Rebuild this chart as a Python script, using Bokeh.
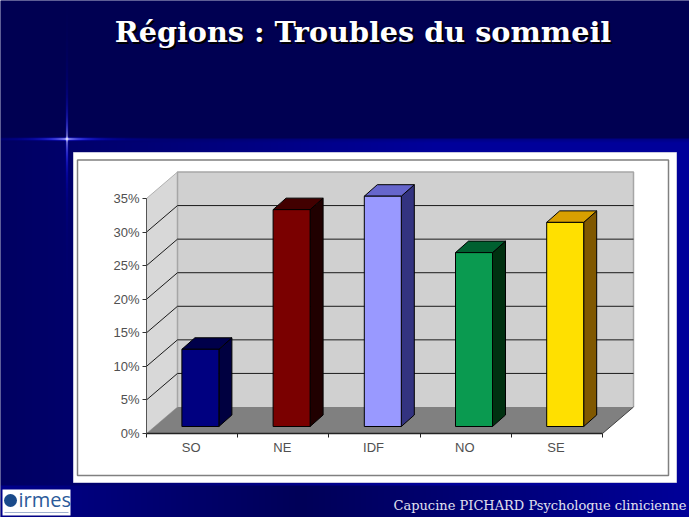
import numpy as np
from bokeh.embed import file_html
from bokeh.resources import INLINE
from bokeh.plotting import figure
from bokeh.models import LinearAxis, FixedTicker, Range1d
from bokeh.core.properties import value

# ---- data -------------------------------------------------------------
categories = ["SO", "NE", "IDF", "NO", "SE"]
values = [11.5, 32.3, 34.3, 25.9, 30.4]
y_ticks = [0, 5, 10, 15, 20, 25, 30, 35]
front_colors = ["#000080", "#7a0000", "#9999ff", "#0a9a50", "#ffe000"]
top_colors = ["#00004a", "#420000", "#6666cc", "#006030", "#d9a000"]
side_colors = ["#000040", "#200000", "#333380", "#003010", "#805800"]
title_text = "Régions : Troubles du sommeil"
footer_text = "Capucine PICHARD Psychologue clinicienne"

# ---- page geometry: one slot / one percent expressed in pixels --------
W, H = 689, 517
OFF = 0
SLOT = 91.2
PCT = 235 / 35
X0, Y0 = 146, 433


def ux(px):
    return (px - X0) / SLOT


def uy(px):
    return (Y0 - px) / PCT


p = figure(width=W, height=H, output_backend="svg", toolbar_location=None,
           x_range=Range1d(ux(OFF), ux(OFF + W)), y_range=Range1d(uy(OFF + H), uy(OFF)),
           x_axis_type=None, y_axis_type=None, min_border=0, outline_line_color=None)
p.grid.visible = False
p.background_fill_color = "#00005a"
p.border_fill_color = "#00005a"

# ---- slide background (decoration) ------------------------------------
yy, xx = np.mgrid[0:H, 0:W]
sx = xx + OFF
sy = yy + OFF
r = np.zeros((H, W))
g = np.zeros((H, W))
b = 0x52 + 0 * r
t = np.clip(sx / 689, 0, 1)
b = np.where(sy >= 138, 0x62 + (0x9a - 0x62) * np.clip(t * 1.6, 0, 1), b)
upper_fade = np.clip((sy - 128) / 14, 0, 1)
b = np.where(sy < 142, 0x52 + (b - 0x52) * upper_fade, b)
mid = np.abs(sx - 300) / 390
b = np.where(sy > 484, 0x58 + (0x9a - 0x58) * np.clip(mid, 0, 1), b)
cx, cy = 66, 138
hflare = np.exp(-((sy - cy) / 1.2) ** 2) * np.exp(-np.abs(sx - cx) / 30)
vflare = np.exp(-((sx - cx) / 0.8) ** 2) * np.exp(-np.abs(sy - cy) / 30)
flare = np.clip(hflare + vflare, 0, 1)
white = flare ** 2.5
r = r + 255 * white
g = g + 255 * white
b = np.clip(b + 255 * flare, 0, 255)
img = np.zeros((H, W), dtype=np.uint32)
view = img.view(dtype=np.uint8).reshape((H, W, 4))
view[..., 0] = r.astype(np.uint8)
view[..., 1] = g.astype(np.uint8)
view[..., 2] = b.astype(np.uint8)
view[..., 3] = 255
p.image_rgba(image=[img[::-1]], x=ux(OFF), y=uy(OFF + H), dw=W / SLOT, dh=H / PCT)

# ---- card ---------------------------------------------------------------
p.quad(left=ux(73), right=ux(676), top=uy(152), bottom=uy(482),
       fill_color="#ffffff", line_color="#c8c8e0", line_width=1)
p.quad(left=ux(77), right=ux(668), top=uy(159.5), bottom=uy(475),
       fill_color="#ffffff", line_color="#808080", line_width=1.5)

# ---- 3D box ---------------------------------------------------------------
DX, DY = 31 / SLOT, 26.5 / PCT
n = len(categories)
top = y_ticks[-1]
p.patch([0, DX, DX, 0], [0, DY, top + DY, top], fill_color="#d8d8d8", line_color="#b0b0b0", line_width=1)
p.patch([DX, n + DX, n + DX, DX], [DY, DY, top + DY, top + DY], fill_color="#d0d0d0", line_color=None)
p.multi_line([[DX, DX, n + DX, n + DX]], [[DY, top + DY, top + DY, DY]], line_color="#a6a6a6", line_width=1.5)
p.patch([0, n, n + DX, DX], [0, 0, DY, DY], fill_color="#808080", line_color=None)
p.line([n, n + DX], [0, DY], line_color="#404040", line_width=1)
grid_levels = y_ticks[1:-1]
p.multi_line([[0, DX, n + DX] for _ in grid_levels],
             [[v, v + DY, v + DY] for v in grid_levels],
             line_color="#1a1a1a", line_width=1)

# ---- bars ---------------------------------------------------------------
BAR_W = 37 / SLOT
BX, BY = 8.3 / SLOT, 7 / PCT
SX, SY = 13 / SLOT, 11.5 / PCT
lefts = [i + 0.5 - BAR_W / 2 + BX for i in range(n)]
rights = [l + BAR_W for l in lefts]
tops = [v + BY for v in values]
p.patches([[r_, r_ + SX, r_ + SX, r_] for r_ in rights],
          [[BY, BY + SY, t_ + SY, t_] for t_ in tops],
          fill_color=side_colors, line_color="#000000", line_width=1)
p.patches([[l, r_, r_ + SX, l + SX] for l, r_ in zip(lefts, rights)],
          [[t_, t_, t_ + SY, t_ + SY] for t_ in tops],
          fill_color=top_colors, line_color="#000000", line_width=1)
p.quad(left=lefts, right=rights, top=tops, bottom=BY,
       fill_color=front_colors, line_color="#000000", line_width=1)

# ---- axes ---------------------------------------------------------------
LABEL = dict(major_label_text_font="Liberation Sans", major_label_text_font_size="13px",
             major_label_text_color="#505050")
yaxis = LinearAxis(ticker=FixedTicker(ticks=y_ticks), fixed_location=0, bounds=(0, top),
                   major_label_overrides={v: f"{v}%" for v in y_ticks},
                   axis_line_color="#555555", axis_line_width=1, major_tick_line_color="#333333",
                   major_tick_out=4, major_tick_in=0, minor_tick_line_color=None,
                   major_label_standoff=3, **LABEL)
p.add_layout(yaxis, "left")
xticks = LinearAxis(ticker=FixedTicker(ticks=list(range(n + 1))), fixed_location=0, bounds=(0, n),
                    major_label_overrides={i: "" for i in range(n + 1)},
                    axis_line_color="#222222", axis_line_width=1.5, major_tick_line_color="#222222",
                    major_tick_out=4, major_tick_in=0, minor_tick_line_color=None)
p.add_layout(xticks, "below")
xlabels = LinearAxis(ticker=FixedTicker(ticks=[i + 0.49 for i in range(n)]), fixed_location=0,
                     major_label_overrides={i + 0.49: c for i, c in enumerate(categories)},
                     axis_line_color=None, major_tick_line_color=None, minor_tick_line_color=None,
                     major_tick_out=0, major_tick_in=0, major_label_standoff=6, **LABEL)
p.add_layout(xlabels, "below")

# ---- title, footer, logo --------------------------------------------------
TITLE = dict(text=[title_text], text_font=value("DejaVu Serif"), text_font_style="bold",
             text_font_size="28.7px", text_align="center", text_baseline="middle")
p.text(x=[ux(364.5)], y=[uy(33)], text_color="#000000", **TITLE)
p.text(x=[ux(362.5)], y=[uy(31)], text_color="#ffffff", **TITLE)
p.text(x=[ux(686)], y=[uy(505)], text=[footer_text], text_font=value("DejaVu Serif"),
       text_font_size="13px", text_color="#e0e0f0", text_align="right", text_baseline="middle")

p.quad(left=ux(2), right=ux(70), top=uy(489), bottom=uy(515), fill_color="#ffffff", line_color=None)
p.scatter(x=[ux(10)], y=[uy(500)], size=13, marker="circle", fill_color="#1a4a8a", line_color=None)
p.text(x=[ux(18)], y=[uy(499)], text=["irmes"], text_font=value("Open Sans"), text_font_size="20px",
       text_color="#2a5a9a", text_align="left", text_baseline="middle")
p.line([ux(4), ux(68)], [uy(512), uy(512)], line_color="#a0b0d0", line_width=1)

open("out.html", "w").write(file_html(p, INLINE))
